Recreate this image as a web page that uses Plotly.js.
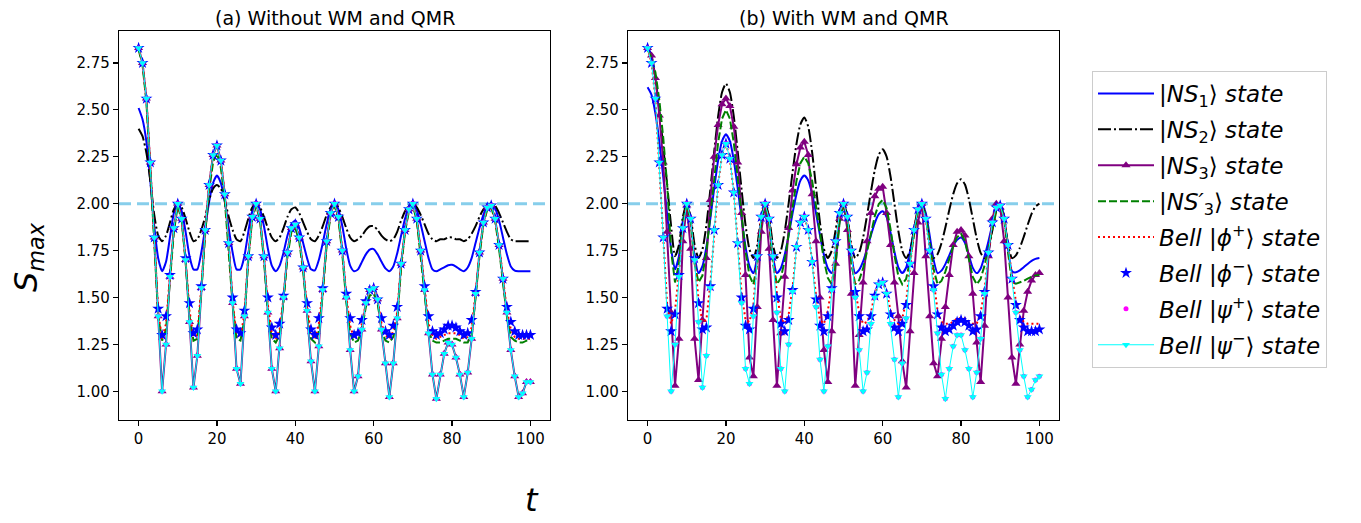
<!DOCTYPE html>
<html><head><meta charset="utf-8">
<script src="https://cdn.plot.ly/plotly-3.0.1.min.js"></script>
<style>html,body{margin:0;padding:0;background:#fff}#chart{width:1361px;height:523px}</style>
</head><body><div id="chart"></div>
<script>
const t = [0,1,2,3,4,5,6,7,8,9,10,11,12,13,14,15,16,17,18,19,20,21,22,23,24,25,26,27,28,29,30,31,32,33,34,35,36,37,38,39,40,41,42,43,44,45,46,47,48,49,50,51,52,53,54,55,56,57,58,59,60,61,62,63,64,65,66,67,68,69,70,71,72,73,74,75,76,77,78,79,80,81,82,83,84,85,86,87,88,89,90,91,92,93,94,95,96,97,98,99,100];

// ---------- Panel (a): Without WM and QMR ----------
const a_ns1 = [2.51,2.45,2.33,2.12,1.88,1.71,1.64,1.69,1.82,1.95,
 2.00,1.96,1.85,1.72,1.65,1.65,1.74,1.87,2.01,2.11,
 2.15,2.11,2.01,1.87,1.74,1.65,1.65,1.72,1.85,1.96,
 2.00,1.97,1.88,1.76,1.67,1.64,1.67,1.74,1.83,1.89,
 1.91,1.87,1.79,1.71,1.65,1.645,1.70,1.79,1.89,1.97,
 2.00,1.97,1.88,1.76,1.67,1.64,1.65,1.69,1.73,1.755,
 1.758,1.73,1.69,1.655,1.64,1.665,1.735,1.83,1.92,1.98,
 2.00,1.965,1.89,1.80,1.71,1.65,1.64,1.65,1.66,1.672,
 1.674,1.665,1.65,1.64,1.66,1.71,1.79,1.87,1.94,1.99,
 2.00,1.976,1.91,1.82,1.73,1.665,1.643,1.64,1.64,1.64,1.64];
const a_ns2 = [2.40,2.36,2.27,2.12,1.94,1.83,1.80,1.83,1.90,1.97,
 2.00,1.98,1.92,1.85,1.80,1.81,1.86,1.93,2.02,2.08,
 2.10,2.08,2.02,1.93,1.86,1.81,1.80,1.85,1.92,1.98,
 2.00,1.98,1.93,1.87,1.82,1.80,1.82,1.87,1.93,1.97,
 1.98,1.95,1.90,1.85,1.81,1.80,1.83,1.88,1.94,1.98,
 2.00,1.98,1.93,1.87,1.82,1.80,1.81,1.83,1.86,1.88,
 1.88,1.86,1.83,1.81,1.80,1.81,1.85,1.91,1.96,1.99,
 2.00,1.98,1.94,1.89,1.84,1.81,1.80,1.81,1.81,1.82,
 1.82,1.81,1.81,1.80,1.81,1.84,1.88,1.93,1.97,1.99,
 2.00,1.99,1.95,1.90,1.85,1.81,1.80,1.80,1.80,1.80,1.80];
const a_ns3 = [2.83,2.75,2.56,2.22,1.82,1.40,1.00,1.25,1.61,1.87,
 2.00,1.92,1.70,1.37,1.02,1.19,1.55,1.86,2.10,2.26,
 2.31,2.23,2.05,1.79,1.47,1.12,1.04,1.40,1.72,1.93,
 2.00,1.92,1.72,1.42,1.12,1.00,1.23,1.50,1.74,1.87,
 1.89,1.82,1.66,1.43,1.16,1.00,1.24,1.54,1.80,1.95,
 2.00,1.93,1.75,1.50,1.22,1.00,1.08,1.33,1.47,1.54,
 1.55,1.49,1.33,1.15,0.97,1.15,1.39,1.68,1.86,1.97,
 2.00,1.92,1.75,1.54,1.31,1.09,0.96,1.09,1.20,1.26,
 1.25,1.18,1.09,0.97,1.10,1.28,1.52,1.74,1.90,1.98,
 1.99,1.92,1.78,1.60,1.42,1.22,1.08,0.97,0.99,1.05,1.05];
const a_ns3p = [2.82,2.74,2.54,2.20,1.80,1.40,1.27,1.33,1.58,1.85,
 1.99,1.91,1.69,1.40,1.27,1.28,1.53,1.84,2.07,2.22,
 2.27,2.19,2.02,1.76,1.46,1.28,1.27,1.38,1.70,1.92,
 1.99,1.91,1.70,1.42,1.28,1.26,1.30,1.48,1.72,1.85,
 1.87,1.80,1.64,1.42,1.28,1.26,1.32,1.52,1.78,1.94,
 1.99,1.92,1.73,1.48,1.31,1.26,1.27,1.33,1.45,1.51,
 1.52,1.47,1.33,1.27,1.26,1.29,1.38,1.66,1.85,1.96,
 1.99,1.91,1.73,1.52,1.32,1.27,1.26,1.26,1.27,1.28,
 1.28,1.28,1.27,1.26,1.26,1.30,1.50,1.72,1.89,1.97,
 1.98,1.91,1.76,1.58,1.40,1.29,1.27,1.26,1.26,1.27,1.27];
const a_phip = [2.83,2.75,2.56,2.22,1.82,1.42,1.28,1.36,1.60,1.87,
 2.00,1.92,1.70,1.43,1.29,1.30,1.55,1.86,2.10,2.26,
 2.31,2.23,2.05,1.79,1.48,1.30,1.29,1.41,1.72,1.93,
 2.00,1.92,1.72,1.46,1.31,1.28,1.33,1.50,1.74,1.87,
 1.89,1.82,1.66,1.45,1.31,1.28,1.36,1.54,1.80,1.95,
 2.00,1.93,1.75,1.51,1.35,1.28,1.29,1.36,1.47,1.54,
 1.55,1.49,1.36,1.30,1.28,1.32,1.42,1.68,1.86,1.97,
 2.00,1.92,1.75,1.55,1.36,1.30,1.28,1.29,1.30,1.31,
 1.31,1.31,1.30,1.28,1.29,1.34,1.52,1.74,1.90,1.98,
 1.99,1.92,1.78,1.60,1.43,1.33,1.29,1.28,1.28,1.28,1.28];
const a_phim = [2.83,2.75,2.56,2.22,1.82,1.44,1.30,1.40,1.62,1.87,
 2.00,1.92,1.71,1.47,1.31,1.33,1.56,1.86,2.10,2.26,
 2.31,2.23,2.05,1.79,1.50,1.33,1.31,1.43,1.72,1.93,
 2.00,1.92,1.72,1.50,1.34,1.30,1.36,1.51,1.74,1.87,
 1.89,1.82,1.66,1.47,1.33,1.30,1.39,1.55,1.80,1.95,
 2.00,1.93,1.75,1.52,1.39,1.30,1.31,1.38,1.48,1.54,
 1.55,1.49,1.39,1.32,1.30,1.35,1.45,1.68,1.86,1.97,
 2.00,1.92,1.75,1.56,1.40,1.32,1.30,1.31,1.33,1.35,
 1.35,1.34,1.32,1.30,1.31,1.38,1.53,1.74,1.90,1.98,
 1.99,1.92,1.78,1.60,1.45,1.37,1.32,1.30,1.30,1.30,1.30];
const a_psip = a_ns3;
const a_psim = a_ns3;

// ---------- Panel (b): With WM and QMR ----------
const b_ns1 = [2.62,2.58,2.48,2.33,2.14,1.94,1.76,1.65,1.72,1.91,
 2.00,1.91,1.72,1.63,1.667,1.769,1.918,2.082,2.231,2.333,
 2.37,2.333,2.231,2.082,1.918,1.769,1.667,1.63,1.72,1.91,
 2.00,1.91,1.72,1.63,1.656,1.728,1.832,1.948,2.052,2.124,
 2.15,2.124,2.052,1.948,1.832,1.728,1.656,1.63,1.72,1.91,
 2.00,1.91,1.72,1.63,1.647,1.692,1.758,1.832,1.898,1.944,
 1.96,1.929,1.846,1.744,1.661,1.63,1.66,1.75,1.86,1.96,
 2.00,1.95,1.83,1.70,1.63,1.643,1.678,1.725,1.773,1.807,
 1.82,1.792,1.725,1.658,1.63,1.655,1.72,1.80,1.89,1.97,
 2.00,1.93,1.76,1.64,1.634,1.645,1.661,1.679,1.695,1.706,1.71];
const b_ns2 = [2.83,2.79,2.67,2.50,2.30,2.10,1.88,1.72,1.78,1.93,
 2.00,1.93,1.78,1.71,1.757,1.885,2.072,2.278,2.465,2.594,
 2.64,2.594,2.465,2.278,2.072,1.885,1.757,1.71,1.78,1.93,
 2.00,1.93,1.78,1.71,1.748,1.851,2.002,2.168,2.319,2.423,
 2.46,2.41,2.273,2.085,1.898,1.76,1.71,1.75,1.86,1.97,
 2.00,1.93,1.78,1.71,1.739,1.819,1.936,2.064,2.181,2.261,
 2.29,2.251,2.145,2.00,1.855,1.749,1.71,1.75,1.86,1.97,
 2.00,1.93,1.78,1.71,1.731,1.789,1.873,1.967,2.051,2.109,
 2.13,2.102,2.025,1.92,1.815,1.738,1.71,1.75,1.86,1.97,
 2.00,1.93,1.78,1.71,1.725,1.765,1.823,1.887,1.946,1.985,2.00];
const b_ns3 = [2.83,2.79,2.67,2.47,2.22,1.85,1.42,1.03,1.28,1.80,
 1.99,1.76,1.28,1.06,1.38,1.71,2.02,2.25,2.42,2.53,
 2.56,2.52,2.41,2.22,1.95,1.62,1.18,1.08,1.45,1.85,
 2.00,1.76,1.38,1.03,1.31,1.61,1.87,2.07,2.21,2.30,
 2.33,2.26,2.05,1.80,1.50,1.22,1.05,1.32,1.68,1.92,
 2.00,1.86,1.52,1.03,1.30,1.58,1.80,1.95,2.04,2.08,
 2.09,1.95,1.78,1.58,1.40,1.16,1.02,1.32,1.63,1.90,
 2.00,1.72,1.40,1.15,1.08,1.28,1.45,1.62,1.78,1.85,
 1.86,1.83,1.72,1.52,1.26,1.05,1.35,1.72,1.92,2.00,
 1.98,1.80,1.50,1.18,1.04,1.25,1.43,1.53,1.59,1.62,1.63];
const b_ns3p = [2.82,2.78,2.70,2.55,2.35,2.10,1.75,1.58,1.68,1.90,
 2.00,1.90,1.68,1.58,1.617,1.745,1.932,2.138,2.325,2.453,
 2.50,2.453,2.325,2.138,1.932,1.745,1.617,1.57,1.68,1.90,
 2.00,1.90,1.68,1.57,1.604,1.698,1.835,1.985,2.122,2.216,
 2.25,2.216,2.122,1.985,1.835,1.698,1.604,1.57,1.68,1.90,
 2.00,1.90,1.68,1.57,1.593,1.655,1.745,1.845,1.935,1.998,
 2.02,1.977,1.865,1.725,1.613,1.57,1.60,1.70,1.84,1.96,
 2.00,1.94,1.80,1.65,1.57,1.588,1.638,1.705,1.773,1.822,
 1.84,1.801,1.705,1.609,1.57,1.60,1.67,1.77,1.87,1.96,
 2.00,1.92,1.74,1.58,1.573,1.579,1.589,1.601,1.611,1.618,1.62];
const b_phip = [2.83,2.75,2.56,2.22,1.82,1.46,1.36,1.43,1.63,1.87,
 2.00,1.92,1.72,1.49,1.37,1.38,1.57,1.86,2.10,2.26,
 2.32,2.24,2.06,1.79,1.52,1.38,1.37,1.46,1.72,1.93,
 2.00,1.92,1.72,1.52,1.39,1.36,1.41,1.55,1.77,1.90,
 1.93,1.86,1.69,1.51,1.38,1.36,1.43,1.56,1.80,1.95,
 2.00,1.93,1.75,1.54,1.42,1.36,1.37,1.42,1.52,1.57,
 1.58,1.53,1.43,1.38,1.36,1.39,1.48,1.68,1.86,1.97,
 2.00,1.92,1.75,1.57,1.43,1.37,1.36,1.36,1.37,1.39,
 1.39,1.39,1.37,1.36,1.36,1.42,1.54,1.74,1.90,1.98,
 1.99,1.92,1.78,1.61,1.48,1.40,1.37,1.36,1.36,1.36,1.36];
const b_phim = [2.83,2.75,2.56,2.22,1.82,1.44,1.32,1.41,1.62,1.87,
 2.00,1.92,1.71,1.47,1.33,1.34,1.56,1.86,2.10,2.26,
 2.32,2.24,2.06,1.79,1.50,1.35,1.33,1.44,1.72,1.93,
 2.00,1.92,1.72,1.50,1.36,1.32,1.38,1.54,1.77,1.90,
 1.93,1.86,1.69,1.49,1.35,1.32,1.40,1.55,1.80,1.95,
 2.00,1.93,1.75,1.53,1.40,1.32,1.33,1.40,1.51,1.57,
 1.58,1.52,1.41,1.34,1.32,1.36,1.46,1.68,1.86,1.97,
 2.00,1.92,1.75,1.56,1.41,1.34,1.32,1.33,1.35,1.37,
 1.38,1.37,1.35,1.32,1.33,1.40,1.53,1.74,1.90,1.98,
 1.99,1.92,1.78,1.60,1.46,1.38,1.34,1.32,1.32,1.32,1.33];
const b_psim = [2.83,2.75,2.56,2.22,1.82,1.40,1.00,1.25,1.61,1.87,
 2.00,1.92,1.70,1.37,1.02,1.19,1.55,1.86,2.10,2.26,
 2.32,2.24,2.06,1.79,1.47,1.12,1.04,1.40,1.72,1.93,
 2.00,1.92,1.72,1.42,1.12,1.00,1.25,1.53,1.77,1.90,
 1.93,1.86,1.69,1.45,1.17,1.00,1.24,1.54,1.80,1.95,
 2.00,1.93,1.75,1.50,1.22,1.00,1.10,1.36,1.50,1.57,
 1.58,1.52,1.36,1.17,0.97,1.15,1.39,1.68,1.86,1.97,
 2.00,1.92,1.75,1.54,1.31,1.09,0.96,1.12,1.24,1.30,
 1.30,1.22,1.12,0.97,1.10,1.28,1.52,1.74,1.90,1.98,
 1.99,1.92,1.78,1.60,1.42,1.22,1.08,0.97,1.01,1.06,1.08];
const b_psip = b_psim;

const names = [
  '|<i>NS</i><sub>1</sub>⟩ <i>state</i>',
  '|<i>NS</i><sub>2</sub>⟩ <i>state</i>',
  '|<i>NS</i><sub>3</sub>⟩ <i>state</i>',
  '|<i>NS′</i><sub>3</sub>⟩ <i>state</i>',
  '<i>Bell</i> |<i>ϕ</i><sup>+</sup>⟩ <i>state</i>',
  '<i>Bell</i> |<i>ϕ</i><sup>−</sup>⟩ <i>state</i>',
  '<i>Bell</i> |<i>ψ</i><sup>+</sup>⟩ <i>state</i>',
  '<i>Bell</i> |<i>ψ</i><sup>−</sup>⟩ <i>state</i>'
];
const title_a = '(a) Without WM and QMR';
const title_b = '(b) With WM and QMR';
const xticks = [0,20,40,60,80,100];
const yticks = [1.00,1.25,1.50,1.75,2.00,2.25,2.50,2.75];

const styles = [
  {mode:'lines', line:{color:'#0000ff', width:2, shape:'spline', smoothing:0.6}},
  {mode:'lines', line:{color:'#000000', width:2, dash:'13px,3px,2px,3px', shape:'spline', smoothing:0.6}},
  {mode:'lines+markers', line:{color:'#800080', width:2}, marker:{symbol:'triangle-up', size:8, color:'#800080'}},
  {mode:'lines', line:{color:'#008000', width:2, dash:'8px,3px'}},
  {mode:'lines', line:{color:'#ff0000', width:2, dash:'2px,3px'}},
  {mode:'markers', marker:{symbol:'star', size:9, color:'#0000ff'}},
  {mode:'markers', marker:{symbol:'circle', size:5, color:'#ff00ff'}},
  {mode:'lines+markers', line:{color:'#00ffff', width:1}, marker:{symbol:'triangle-down', size:7, color:'#00ffff'}}
];
const A = [a_ns1,a_ns2,a_ns3,a_ns3p,a_phip,a_phim,a_psip,a_psim];
const B = [b_ns1,b_ns2,b_ns3,b_ns3p,b_phip,b_phim,b_psip,b_psim];

const traces = [];
A.forEach((y,i)=>traces.push(Object.assign({x:t, y:y, name:names[i], xaxis:'x', yaxis:'y', showlegend:true, legendgroup:'g'+i, type:'scatter'}, JSON.parse(JSON.stringify(styles[i])))));
B.forEach((y,i)=>traces.push(Object.assign({x:t, y:y, name:names[i], xaxis:'x2', yaxis:'y2', showlegend:false, legendgroup:'g'+i, type:'scatter'}, JSON.parse(JSON.stringify(styles[i])))));

const W=1361, H=523;
const yDom=[102.8/H, 1-30.7/H];
const axBase = {showline:true, linecolor:'#000', linewidth:1.2, mirror:true, ticks:'outside', ticklen:5, tickwidth:1.2, tickcolor:'#000',
  showgrid:false, zeroline:false, tickfont:{family:'DejaVu Sans', size:15, color:'#000'}};
const layout = {
  width:W, height:H, margin:{l:0,r:0,t:0,b:0}, paper_bgcolor:'#fff', plot_bgcolor:'#fff',
  font:{family:'DejaVu Sans', color:'#000'},
  xaxis: Object.assign({}, axBase, {domain:[119/W, 550/W], range:[-5,105], tickvals:xticks, anchor:'y'}),
  yaxis: Object.assign({}, axBase, {domain:yDom, range:[0.846,2.922], tickvals:yticks, tickformat:'.2f', anchor:'x'}),
  xaxis2: Object.assign({}, axBase, {domain:[628/W, 1059/W], range:[-5,105], tickvals:xticks, anchor:'y2'}),
  yaxis2: Object.assign({}, axBase, {domain:yDom, range:[0.846,2.922], tickvals:yticks, tickformat:'.2f', anchor:'x2'}),
  shapes:[
    {type:'line', xref:'x domain', x0:0, x1:1, yref:'y', y0:2, y1:2, layer:'below', line:{color:'#87ceeb', width:3, dash:'12px,6px'}},
    {type:'line', xref:'x2 domain', x0:0, x1:1, yref:'y2', y0:2, y1:2, layer:'below', line:{color:'#87ceeb', width:3, dash:'12px,6px'}}
  ],
  legend:{x:1092/W, y:1-71/H, xanchor:'left', yanchor:'top', bgcolor:'#fff', bordercolor:'#cccccc', borderwidth:1,
    font:{family:'DejaVu Sans', size:23, color:'#000'}, tracegroupgap:3, itemwidth:56},
  annotations:[
    {text:title_a, xref:'paper', yref:'paper', x:334.5/W, y:1-18/H, xanchor:'center', yanchor:'middle', showarrow:false, font:{size:19, family:'DejaVu Sans'}},
    {text:title_b, xref:'paper', yref:'paper', x:843.5/W, y:1-18/H, xanchor:'center', yanchor:'middle', showarrow:false, font:{size:19, family:'DejaVu Sans'}},
    {text:'<i>S</i><sub><i>max</i></sub>', xref:'paper', yref:'paper', x:28/W, y:1-257/H, xanchor:'center', yanchor:'middle', textangle:-90, showarrow:false, font:{size:32, family:'DejaVu Sans'}},
    {text:'<i>t</i>', xref:'paper', yref:'paper', x:532/W, y:1-500/H, xanchor:'center', yanchor:'middle', showarrow:false, font:{size:32, family:'DejaVu Sans'}}
  ]
};
Plotly.newPlot('chart', traces, layout, {displayModeBar:false, staticPlot:true});
</script>
</body></html>
